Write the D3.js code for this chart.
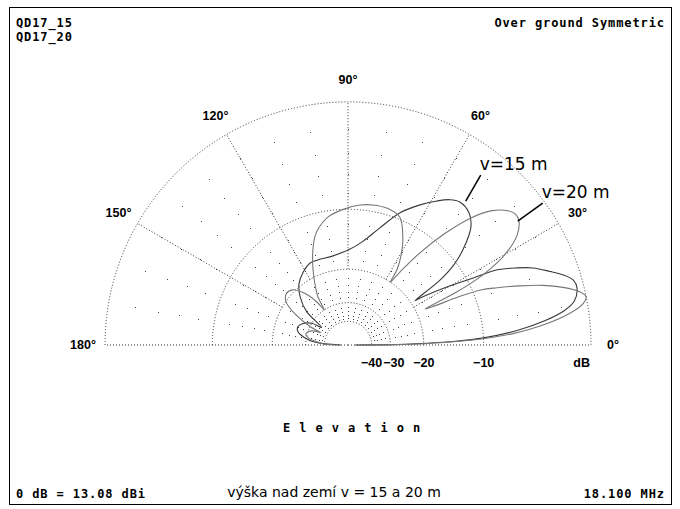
<!DOCTYPE html>
<html>
<head>
<meta charset="utf-8">
<script src="https://cdn.jsdelivr.net/npm/d3@7"></script>
<style>
  body { margin: 0; background: #fff; }
  .mono { font-family: "DejaVu Sans Mono", monospace; font-weight: bold; font-size: 12px; letter-spacing: 0.9px; }
  .lab { font-family: "Liberation Sans", Arial, sans-serif; font-weight: bold; font-size: 12.5px; }
  .note { font-family: "DejaVu Sans", sans-serif; }
</style>
</head>
<body>
<div id="chart"></div>
<script>
// elevation pattern, v = 15 m
const elev15 = [0,0.5,1,2,3,5,7,9,11,14, 16,18,20,22.6,24.5,26.7,28.3,30.5,33.1,33.5,
  35.2,37,39.6,43.8,47.7,52,55,58.3,63,68.5, 75,82,89,100,110,115,122,129,135,141,
  146.5,149,155,160,165,170,175,180];
const gain15 = [-60,-30,-22,-14,-10,-6,-3.5,-1.8,-0.9,-0.5, -0.6,-1.2,-2.1,-3.3,-4.6,-6.4,-9.5,-13,-17.8,-19,
  -13.2,-10.5,-8.4,-6.1,-5.2,-5,-5.4,-6.2,-7.5,-9.2, -12,-14.5,-16,-17,-17,-17,-18,-19.5,-22,-26,
  -35,-30,-27,-26,-26.5,-29,-34,-60];

// elevation pattern, v = 20 m
const elev20 = [0,0.5,1,2,3,4,6,8,10,11.5, 13,15,17,19,21,22.5,23.5,24.3,25,26,
  27.5,30,33,36,38,40,43,46,49,52, 54.5,56,57,60,63,68,74,80,85,92,
  99,104,107,111,115,119,122,124,126,130, 135,140,145,150,154,155.5,158,162,166,170,
  174,178,180];
const gain20 = [-60,-28,-20,-13,-9,-6.5,-3.5,-1.5,-0.3,0, -0.4,-1.5,-3,-5,-7.2,-9,-12,-16,-18,-12,
  -8,-5,-3.2,-2.4,-2.3,-2.6,-3.6,-5.5,-8.5,-12.5, -17,-20,-17,-14,-12,-9.7,-9.2,-9.2,-9.4,-10,
  -10.8,-12,-13.1,-15.5,-18.5,-22,-25,-30,-26,-22, -19.5,-19,-20,-24,-30,-36,-32,-30,-29.5,-31,
  -35,-40,-60];

const seriesNames = ['v=15 m', 'v=20 m'];
const seriesMarkDeg = [50.7, 36.1];
const seriesMarkDb = [-4.6, -2.5];

const ringDb = [0, -10, -20, -30, -40];
const ringLabels = ['dB', '\u221210', '\u221220', '\u221230', '\u221240'];
const spokeDeg = [0, 30, 60, 90, 120, 150, 180];
const spokeLabels = ['0\u00b0', '30\u00b0', '60\u00b0', '90\u00b0', '120\u00b0', '150\u00b0', '180\u00b0'];

const width = 680, height = 509;
const cx = 348, cy = 345, R = 243;

const svg = d3.select('#chart').append('svg')
  .attr('width', width)
  .attr('height', height);

svg.append('rect')
  .attr('width', width).attr('height', height)
  .attr('fill', '#fff');

svg.append('rect')
  .attr('x', 9.5).attr('y', 7.5)
  .attr('width', 662).attr('height', 497)
  .attr('fill', 'none')
  .attr('stroke', '#000');

// ARRL style log scale: 0.89 of radius per 2 dB  ->  r ~ power^0.2531
const rPow = d3.scalePow().exponent(-5 * Math.log(0.89) / Math.LN10)
  .domain([0, 1]).range([0, R]);
const rad = db => rPow(Math.pow(10, db / 10));
const ang = d3.scaleLinear().domain([0, 180]).range([Math.PI / 2, -Math.PI / 2]);

const px = (deg, r) => cx + r * Math.sin(ang(deg));
const py = (deg, r) => cy - r * Math.cos(ang(deg));

const g = svg.append('g');
const grid = g.append('g').attr('stroke', '#333').attr('stroke-width', 1)
  .attr('fill', 'none').attr('stroke-dasharray', '1,2');

// rings
grid.selectAll('path.ring')
  .data(ringDb)
  .enter().append('path')
  .attr('class', 'ring')
  .attr('d', d => {
    const p = d3.path();
    p.arc(cx, cy, rad(d), Math.PI, 2 * Math.PI);
    return p.toString();
  });

// spokes
grid.selectAll('line.spoke')
  .data(spokeDeg)
  .enter().append('line')
  .attr('class', 'spoke')
  .attr('x1', d => (d % 180 === 0) ? cx : px(d, rad(-20)))
  .attr('y1', d => (d % 180 === 0) ? cy : py(d, rad(-20)))
  .attr('x2', d => px(d, R))
  .attr('y2', d => py(d, R));

// dot grid every 10 deg, every 2 dB
const dots = [];
d3.range(10, 180, 10).forEach(a => {
  d3.range(-2, -40, -2).forEach(db => {
    if (db % 10 !== 0) dots.push([a, db]);
  });
});
g.append('g').selectAll('rect')
  .data(dots)
  .enter().append('rect')
  .attr('x', d => Math.round(px(d[0], rad(d[1]))))
  .attr('y', d => Math.round(py(d[0], rad(d[1]))))
  .attr('width', 1).attr('height', 1)
  .attr('fill', '#444');

// angle labels
g.selectAll('text.ang')
  .data(spokeDeg)
  .enter().append('text')
  .attr('class', 'lab')
  .attr('x', (d, i) => px(d, R + 22))
  .attr('y', (d, i) => py(d, R + 22) + 4)
  .attr('text-anchor', 'middle')
  .text((d, i) => spokeLabels[i]);

// dB labels, pushed right if they collide
let lastRight = -Infinity;
ringDb.slice().reverse().forEach((db, j) => {
  const i = ringDb.length - 1 - j;
  const t = g.append('text')
    .attr('class', 'lab')
    .attr('y', 367)
    .text(ringLabels[i]);
  const w = t.node().getComputedTextLength();
  let x = db === 0 ? cx + rad(db) - 1 - w : cx + rad(db) - w / 2;
  if (x < lastRight + 1) x = lastRight + 1;
  t.attr('x', x);
  lastRight = x + w;
});

// patterns
const line = d3.lineRadial()
  .angle(d => ang(d[0]))
  .radius(d => rad(d[1]))
  .curve(d3.curveCatmullRom.alpha(0.5));

const series = [
  { color: '#3a3a3a', pts: d3.zip(elev15, gain15) },
  { color: '#777', pts: d3.zip(elev20, gain20) }
];

g.selectAll('path.pat')
  .data(series)
  .enter().append('path')
  .attr('class', 'pat')
  .attr('transform', 'translate(' + cx + ',' + cy + ')')
  .attr('d', d => line(d.pts))
  .attr('fill', 'none')
  .attr('stroke', d => d.color)
  .attr('stroke-width', 1.1);

// series callouts
const callDx = [15, 25], callDy = [-26, -18];
seriesNames.forEach((name, i) => {
  const x0 = px(seriesMarkDeg[i], rad(seriesMarkDb[i]));
  const y0 = py(seriesMarkDeg[i], rad(seriesMarkDb[i]));
  g.append('line')
    .attr('x1', x0).attr('y1', y0)
    .attr('x2', x0 + callDx[i]).attr('y2', y0 + callDy[i])
    .attr('stroke', '#000').attr('stroke-width', 1.5);
  g.append('text')
    .attr('class', 'note')
    .attr('font-size', 17)
    .attr('x', x0 + callDx[i] - 1)
    .attr('y', y0 + callDy[i] - 5)
    .text(name);
});

// header / footer texts
svg.append('text').attr('class', 'mono').attr('x', 16).attr('y', 27).text('QD17_15');
svg.append('text').attr('class', 'mono').attr('x', 16).attr('y', 41).text('QD17_20');
svg.append('text').attr('class', 'mono').attr('x', 665).attr('y', 27)
  .attr('text-anchor', 'end').text('Over ground Symmetric');
svg.append('text').attr('class', 'mono').attr('x', 352).attr('y', 432)
  .attr('text-anchor', 'middle').text('E l e v a t i o n');
svg.append('text').attr('class', 'mono').attr('x', 16).attr('y', 498).text('0 dB = 13.08 dBi');
svg.append('text').attr('class', 'mono').attr('x', 665).attr('y', 498)
  .attr('text-anchor', 'end').text('18.100 MHz');
svg.append('text').attr('class', 'note').attr('font-size', 14)
  .attr('x', 334).attr('y', 497).attr('text-anchor', 'middle')
  .text('výška nad zemí v = 15 a 20 m');
</script>
</body>
</html>
